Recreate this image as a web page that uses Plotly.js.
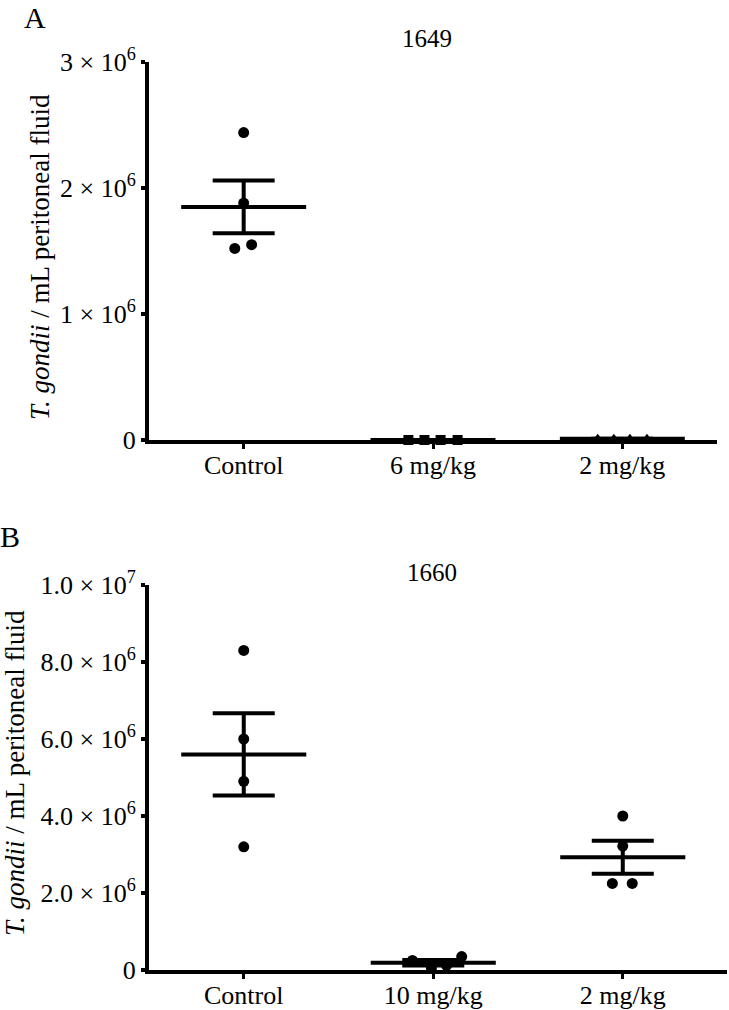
<!DOCTYPE html>
<html>
<head>
<meta charset="utf-8">
<script src="https://cdn.plot.ly/plotly-3.0.1.min.js"></script>
<style>html,body{margin:0;padding:0;background:#fff;}</style>
</head>
<body>
<div id="chart" style="width:729px;height:1010px;"></div>
<script>
// ---------- DATA ----------
const categoriesA = ["Control", "6 mg/kg", "2 mg/kg"];
const categoriesB = ["Control", "10 mg/kg", "2 mg/kg"];

const A_control = [2.44e6, 1.88e6, 1.52e6, 1.55e6];
const A_6mg     = [0, 0, 0, 0];
const A_2mg     = [0.01e6, 0.01e6, 0.01e6, 0.01e6];
const A_means   = [1.85e6, 0, 0.01e6];
const A_sems    = [0.21e6, 0, 0];

const B_control = [8.3e6, 6.0e6, 4.9e6, 3.2e6];
const B_10mg    = [0.25e6, 0.05e6, 0.12e6, 0.35e6];
const B_2mg     = [4.0e6, 3.22e6, 2.25e6, 2.25e6];
const B_means   = [5.6e6, 0.19e6, 2.93e6];
const B_sems    = [1.07e6, 0.07e6, 0.43e6];

const A_tickvals = [0, 1e6, 2e6, 3e6];
const A_ticktext = ["0", "1 × 10<sup>6</sup>", "2 × 10<sup>6</sup>", "3 × 10<sup>6</sup>"];
const B_tickvals = [0, 2e6, 4e6, 6e6, 8e6, 1e7];
const B_ticktext = ["0", "2.0 × 10<sup>6</sup>", "4.0 × 10<sup>6</sup>", "6.0 × 10<sup>6</sup>", "8.0 × 10<sup>6</sup>", "1.0 × 10<sup>7</sup>"];

// ---------- STYLE / LAYOUT CONSTANTS ----------
const FONT = "Liberation Serif";
const jitterA = [[0, 0, -0.047, 0.042], [-0.13, -0.045, 0.04, 0.13], [-0.13, -0.045, 0.04, 0.13]];
const jitterB = [[0, 0, 0, 0], [-0.11, -0.01, 0.07, 0.15], [0, 0, -0.055, 0.05]];
const HALF = 0.33;

function groupTraces(groups, means, sems, jitter, symbols, xa, ya) {
  const traces = [];
  const mx = [], my = [];
  means.forEach((m, i) => { mx.push(i - HALF, i + HALF, null); my.push(m, m, null); });
  traces.push({x: mx, y: my, xaxis: xa, yaxis: ya, mode: "lines", type: "scatter",
    line: {color: "#000", width: 4}, cliponaxis: false, hoverinfo: "skip"});
  traces.push({x: means.map((m, i) => i), y: means, xaxis: xa, yaxis: ya, mode: "markers", type: "scatter",
    marker: {size: 1, color: "rgba(0,0,0,0)"}, cliponaxis: false,
    error_y: {type: "data", array: sems, visible: true, color: "#000", thickness: 4, width: 31}});
  groups.forEach((vals, i) => {
    traces.push({x: vals.map((v, j) => i + jitter[i][j]), y: vals, xaxis: xa, yaxis: ya,
      mode: "markers", type: "scatter", cliponaxis: false,
      marker: {symbol: symbols[i], size: symbols[i] === "circle" ? 11 : 10, color: "#000"}});
  });
  return traces;
}

const data = [].concat(
  groupTraces([A_control, A_6mg, A_2mg], A_means, A_sems, jitterA, ["circle", "square", "triangle-up"], "x", "y"),
  groupTraces([B_control, B_10mg, B_2mg], B_means, B_sems, jitterB, ["circle", "circle", "circle"], "x2", "y2")
);

const W = 729, H = 1010;
const px = v => v / W, py = v => 1 - v / H;

function xCommon() { return {showline: true, linewidth: 4, linecolor: "#000", ticks: "outside", ticklen: 5, tickwidth: 3,
  tickcolor: "#000", tickvals: [0, 1, 2], showgrid: false, zeroline: false, ticklabelstandoff: -6,
  tickfont: {family: FONT, size: 26, color: "#000"}, fixedrange: true}; }
function yCommon() { return {showline: true, linewidth: 4, linecolor: "#000", ticks: "outside", ticklen: 4, tickwidth: 4,
  tickcolor: "#000", showgrid: false, zeroline: false,
  tickfont: {family: FONT, size: 26, color: "#000"}, fixedrange: true}; }

function ann(text, x, y, size, extra) {
  return Object.assign({text: text, xref: "paper", yref: "paper", x: px(x), y: py(y), xanchor: "center", yanchor: "middle",
    showarrow: false, font: {family: FONT, size: size, color: "#000"}}, extra || {});
}

const layout = {
  width: W, height: H, margin: {l: 0, r: 0, t: 0, b: 0},
  paper_bgcolor: "#fff", plot_bgcolor: "#fff", showlegend: false,
  font: {family: FONT, color: "#000"},
  xaxis: Object.assign(xCommon(), {domain: [px(149), px(717)], range: [-0.5, 2.5], ticktext: categoriesA, anchor: "y"}),
  yaxis: Object.assign(yCommon(), {domain: [py(440), py(62)], range: [0, 3e6], tickvals: A_tickvals, ticktext: A_ticktext, anchor: "x"}),
  xaxis2: Object.assign(xCommon(), {domain: [px(149), px(727)], range: [-0.5, 2.55], ticktext: categoriesB, anchor: "y2"}),
  yaxis2: Object.assign(yCommon(), {domain: [py(970), py(585)], range: [0, 1e7], tickvals: B_tickvals, ticktext: B_ticktext, anchor: "x2"}),
  annotations: [
    ann("A", 35, 17, 30),
    ann("B", 10, 536, 30),
    ann("1649", 427, 38, 25),
    ann("1660", 432, 572, 25),
    ann("<i>T. gondii</i> / mL peritoneal fluid", 40, 257, 27, {textangle: -90}),
    ann("<i>T. gondii</i> / mL peritoneal fluid", 15, 773, 27, {textangle: -90})
  ]
};

Plotly.newPlot("chart", data, layout, {displayModeBar: false, staticPlot: true});
</script>
</body>
</html>
